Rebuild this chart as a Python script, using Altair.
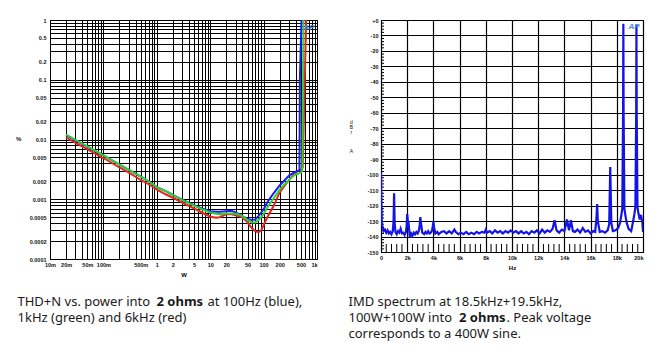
import altair as alt
import pandas as pd

# ---------------- Left panel data: THD+N (%) vs power (W) ----------------
power_w = [0.02, 0.03, 0.05, 0.07, 0.1, 0.2, 0.3, 0.5, 0.7, 1, 1.5, 2, 3, 5, 7, 10, 13, 15,
           20, 25, 30, 35, 40, 50, 60, 70, 80, 90, 100, 120, 150, 200, 250, 300, 350, 400, 450]
thd_blue = [0.0118, 0.0097, 0.0076, 0.0064, 0.0054, 0.0038, 0.0031, 0.0024, 0.0020, 0.0016,
            0.00135, 0.00118, 0.00098, 0.0008, 0.0007, 0.00063, 0.00062, 0.00062, 0.00063,
            0.00064, 0.0006, 0.00056, 0.00052, 0.00047, 0.00045, 0.00046, 0.00052, 0.0006,
            0.00068, 0.00092, 0.00122, 0.0017, 0.0021, 0.0025, 0.0027, 0.0029, 0.003]
thd_green = [0.0121, 0.0099, 0.0077, 0.0065, 0.0054, 0.0038, 0.0031, 0.0024, 0.0020, 0.0016,
             0.00135, 0.00118, 0.00097, 0.00078, 0.00068, 0.0006, 0.00057, 0.00056, 0.00058,
             0.00058, 0.00057, 0.00055, 0.00052, 0.00045, 0.00041, 0.00041, 0.00045, 0.0005,
             0.00057, 0.00075, 0.001, 0.00145, 0.0018, 0.0021, 0.0024, 0.0026, 0.0027]
thd_red = [0.0108, 0.0088, 0.0069, 0.0058, 0.0049, 0.0034, 0.0028, 0.0021, 0.0018, 0.00145,
           0.0012, 0.00106, 0.00088, 0.0007, 0.0006, 0.00051, 0.00049, 0.0005, 0.00056,
           0.00056, 0.00054, 0.00052, 0.0005, 0.00041, 0.00033, 0.00029, 0.00028, 0.0003,
           0.00037, 0.00052, 0.00074, 0.0013, 0.0017, 0.0021, 0.0025, 0.0028, 0.003]
# clipping tails (power W, THD+N %)
blue_tail_w = [470, 478, 515]
blue_tail_pct = [0.0031, 0.1, 1.2]
green_tail_w = [500, 530, 560]
green_tail_pct = [0.0028, 0.003, 1.2]
red_tail_w = [500, 540, 630]
red_tail_pct = [0.0031, 0.0034, 1.2]

left_x_labels = [0.01, 0.02, 0.05, 0.1, 0.5, 1, 2, 5, 10, 20, 50, 100, 200, 500, 1000]
left_y_labels = [1, 0.5, 0.2, 0.1, 0.05, 0.02, 0.01, 0.005, 0.002, 0.001, 0.0005, 0.0002, 0.0001]

# ---------------- Right panel data: IMD spectrum ----------------
imd_hz = [0, 30, 60, 100, 150, 200, 300, 400, 500, 600, 700, 800, 900, 960, 1000, 1040, 1100,
          1200, 1300, 1400, 1500, 1600, 1700, 1800, 1900, 1960, 2000, 2050, 2100, 2200, 2300,
          2400, 2500, 2600, 2700, 2800, 2900, 2960, 3000, 3050, 3150, 3300, 3400, 3500, 3600,
          3700, 3800, 3900, 3960, 4000, 4050, 4150, 4300, 4400, 4600, 4800, 5000, 5200, 5400,
          5600, 5700, 5900, 6100, 6300, 6500, 6700, 6900, 7100, 7300, 7500, 7700, 7900, 8000,
          8100, 8300, 8500, 8700, 8900, 9100, 9300, 9500, 9700, 9900, 10100, 10300, 10500,
          10700, 10900, 11100, 11300, 11500, 11700, 11900, 12100, 12300, 12500, 12700, 12900,
          13100, 13250, 13400, 13600, 13800, 14000, 14200, 14350, 14500, 14650, 14800, 15000,
          15200, 15400, 15600, 15800, 16000, 16200, 16350, 16450, 16500, 16550, 16700, 16900,
          17100, 17300, 17420, 17500, 17580, 17700, 17900, 18100, 18250, 18350, 18420, 18480,
          18500, 18520, 18580, 18650, 18750, 18900, 19100, 19250, 19350, 19420, 19480, 19500,
          19520, 19580, 19650, 19750, 19850, 19950, 20000]
imd_db = [-99, -118, -131, -133, -134.5, -136.5, -135.5, -137.5, -136, -138, -137, -138.5,
          -136.5, -130, -112, -131, -137, -138.5, -136.5, -137.5, -135, -138, -137.5, -139,
          -137, -133, -125.5, -130, -131, -140.5, -138, -139.5, -137.5, -138.5, -137, -138,
          -136, -132, -127.5, -131, -137.5, -138.5, -137, -138, -136.5, -138, -137.5, -136,
          -133, -130.5, -134, -138, -137, -138.5, -137, -136.5, -138, -136.5, -138, -135.5,
          -137, -138.5, -137.5, -138.5, -137, -138.5, -137.5, -138.5, -137, -138, -137, -137.5,
          -135.5, -137.5, -136.5, -138, -136, -137.5, -136.5, -138, -136.5, -137.5, -136,
          -137.5, -136.5, -138, -136.5, -138, -137, -138.5, -136.5, -137.5, -136, -138, -135.5,
          -137.5, -136, -137, -135, -129.5, -136, -137.5, -135.5, -136.5, -129, -136, -129.5,
          -136.5, -137, -135.5, -137.5, -134.5, -137, -136, -138, -136.5, -137, -128, -119,
          -130, -137, -136.5, -137.5, -136, -132, -95, -131, -136.5, -136, -134.5, -131, -126,
          -122, -60, -2.5, -60, -122, -126, -131, -135, -136.5, -130, -125, -121, -60, -3, -60,
          -121, -125, -129, -126, -131, -137]

right_x_ticks = list(range(0, 20001, 2000))
right_y_ticks = list(range(-150, 1, 10))

# ---------------- captions / titles ----------------
left_caption_1 = ["THD+N vs. power into", "2 ohms", "at 100Hz (blue),"]
left_caption_2 = ["1kHz (green) and 6kHz (red)"]
right_caption_1 = ["IMD spectrum at 18.5kHz+19.5kHz,"]
right_caption_2 = ["100W+100W into", "2 ohms", ". Peak voltage"]
right_caption_3 = ["corresponds to a 400W sine."]
left_y_title = "%"
right_y_title_letters = ["d", "B", "r", "A"]

FONT = "Liberation Sans"
CAP_FONT = "Noto Sans"
CAP_SIZE = 13

LW, LH = 267, 239
RW, RH = 262, 232


def caption(text, x, y, bold=False):
    return alt.Chart(pd.DataFrame({"t": [text]})).mark_text(
        align="left", baseline="alphabetic", font=CAP_FONT, fontSize=CAP_SIZE,
        fontWeight="bold" if bold else "normal", color="#1a1a1a"
    ).encode(text="t:N", x=alt.value(x), y=alt.value(y))


def small_text(text, x, y, size=6, bold=True):
    return alt.Chart(pd.DataFrame({"t": [text]})).mark_text(
        font=FONT, fontSize=size, fontWeight="bold" if bold else "normal", color="#111",
        align="center", baseline="middle"
    ).encode(text="t:N", x=alt.value(x), y=alt.value(y))


def logo(x, y):
    return alt.Chart(pd.DataFrame({"t": ["AP"]})).mark_text(
        font=FONT, fontSize=8, fontStyle="italic", fontWeight="bold", color="#3a8fd6"
    ).encode(text="t:N", x=alt.value(x), y=alt.value(y))


# ---------------- Left panel ----------------
grid_x_vals = [round(m * 10 ** e, 6) for e in range(-2, 3) for m in range(1, 10)] + [1000]
grid_y_vals = [round(m * 10 ** e, 8) for e in range(-4, 0) for m in range(1, 10)] + [1]

xlab = ",".join(str(v) for v in left_x_labels)
ylab = ",".join(str(v) for v in left_y_labels)

left_x_axis = alt.Axis(
    values=grid_x_vals, grid=True, gridColor="black", gridOpacity=1, gridWidth=1,
    ticks=False, domain=False, labelOverlap=False, labelPadding=3,
    labelFont=FONT, labelFontSize=5.5, labelFontWeight="bold", labelColor="#111",
    labelExpr=(f"indexof([{xlab}], datum.value) >= 0 ? (datum.value < 1 ? "
               "format(datum.value * 1000, 'd') + 'm' : (datum.value >= 1000 ? '1k' : "
               "format(datum.value, 'd'))) : ''"),
    labelAlign={"condition": {"test": "datum.value >= 1000", "value": "right"}, "value": "center"},
    title="W", titleFont=FONT, titleFontSize=6, titleFontWeight="bold", titleY=15,
    titleBaseline="middle",
)
left_y_axis = alt.Axis(
    values=grid_y_vals, grid=True, gridColor="black", gridOpacity=1, gridWidth=1,
    ticks=False, domain=False, labelOverlap=False, labelPadding=4,
    labelFont=FONT, labelFontSize=5.5, labelFontWeight="bold", labelColor="#111",
    labelExpr=f"indexof([{ylab}], datum.value) >= 0 ? '' + datum.value : ''",
    title=None,
)
lx_scale = alt.Scale(type="log", domain=[0.01, 1000], nice=False)
ly_scale = alt.Scale(type="log", domain=[0.0001, 1], nice=False)


def thd_line(xs, ys, color):
    return alt.Chart(pd.DataFrame({"w": xs, "pct": ys})).mark_line(
        color=color, strokeWidth=2, clip=True
    ).encode(
        x=alt.X("w:Q", scale=lx_scale, axis=left_x_axis),
        y=alt.Y("pct:Q", scale=ly_scale, axis=left_y_axis),
    )


left = alt.layer(
    thd_line(power_w + red_tail_w, thd_red + red_tail_pct, "#e8231c"),
    thd_line(power_w + blue_tail_w, thd_blue + blue_tail_pct, "#1a1aff"),
    thd_line(power_w + green_tail_w, thd_green + green_tail_pct, "#2fd02f"),
    logo(259, 8),
    small_text(left_y_title, -31.3, 119.3, size=6),
    caption(left_caption_1[0], -32.5, 286),
    caption(left_caption_1[1], 106.5, 286, bold=True),
    caption(left_caption_1[2], 157.5, 286),
    caption(left_caption_2[0], -32.5, 301.5),
).properties(width=LW, height=LH)

# ---------------- Right panel ----------------
rx_scale = alt.Scale(domain=[0, 20000], nice=False, zero=False)
ry_scale = alt.Scale(domain=[-150, 0], nice=False)

right_x_axis = alt.Axis(
    values=right_x_ticks, grid=True, gridColor="black", gridOpacity=1, gridWidth=1.2,
    ticks=False, domain=False, labelOverlap=False, labelPadding=3,
    labelFont=FONT, labelFontSize=5.5, labelFontWeight="bold", labelColor="#111",
    labelExpr="datum.value == 0 ? '0' : (datum.value / 1000) + 'k'",
    labelAlign={"condition": {"test": "datum.value >= 20000", "value": "right"}, "value": "center"},
    title="Hz", titleFont=FONT, titleFontSize=6, titleFontWeight="bold", titleY=15,
    titleBaseline="middle",
)
right_y_axis = alt.Axis(
    values=right_y_ticks, grid=True, gridColor="black", gridOpacity=1, gridWidth=1.2,
    ticks=False, domain=False, labelOverlap=False, labelPadding=3,
    labelFont=FONT, labelFontSize=5.5, labelFontWeight="bold", labelColor="#111",
    labelExpr="datum.value == 0 ? '+0' : '' + datum.value",
    title=None,
)

minor_y = pd.DataFrame({"db": [v for v in range(-148, 0, 2) if v % 10 != 0]})
minor_x = pd.DataFrame({"hz": [v for v in range(400, 20000, 400) if v % 2000 != 0]})

right = alt.layer(
    alt.Chart(minor_y).mark_rule(color="black", strokeWidth=1).encode(
        y=alt.Y("db:Q", scale=ry_scale, axis=right_y_axis), x=alt.value(0), x2=alt.value(3)
    ),
    alt.Chart(minor_x).mark_rule(color="black", strokeWidth=1).encode(
        x=alt.X("hz:Q", scale=rx_scale, axis=right_x_axis), y=alt.value(RH), y2=alt.value(RH - 8)
    ),
    alt.Chart(pd.DataFrame({"hz": imd_hz, "db": imd_db})).mark_line(
        color="#1414e6", strokeWidth=2.2, clip=True
    ).encode(
        x=alt.X("hz:Q", scale=rx_scale, axis=right_x_axis),
        y=alt.Y("db:Q", scale=ry_scale, axis=right_y_axis),
    ),
    logo(253, 7),
    small_text(right_y_title_letters[0], -29.7, 101.7, size=5, bold=False),
    small_text(right_y_title_letters[1], -29.7, 106.7, size=5, bold=False),
    small_text(right_y_title_letters[2], -29.7, 111.7, size=5, bold=False),
    small_text(right_y_title_letters[3], -29.7, 130.7, size=5, bold=False),
    caption(right_caption_1[0], -32.5, 285.5),
    caption(right_caption_2[0], -32.5, 301.5),
    caption(right_caption_2[1], 78, 301.5, bold=True),
    caption(right_caption_2[2], 125.5, 301.5),
    caption(right_caption_3[0], -32.5, 317.5),
).properties(width=RW, height=RH)

chart = alt.hconcat(left, right, spacing=30).properties(
    padding={"left": 15, "top": 17, "right": 5, "bottom": 5},
    background="white",
).configure_view(stroke="black", strokeWidth=1)

chart.save("out.html", embed_options={"renderer": "svg", "actions": False})
